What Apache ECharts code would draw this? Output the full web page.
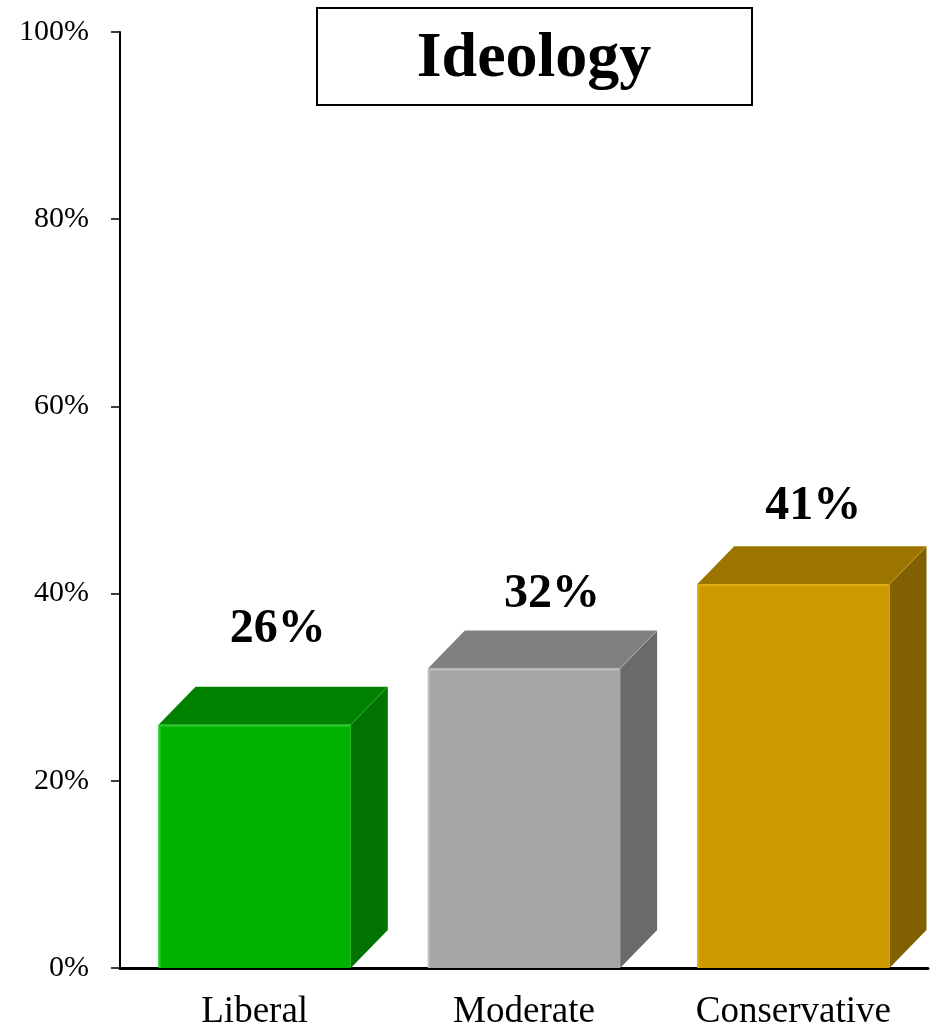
<!DOCTYPE html>
<html>
<head>
<meta charset="utf-8">
<script src="https://cdn.jsdelivr.net/npm/echarts@6/dist/echarts.min.js"></script>
<style>html,body{margin:0;padding:0;background:#fff}#c{width:930px;height:1031px}</style>
</head>
<body>
<div id="c"></div>
<script>
const categories = ['Liberal', 'Moderate', 'Conservative'];
const values = [26, 32, 41];
const yTicks = [0, 20, 40, 60, 80, 100];
const titleText = 'Ideology';

const frontColors = ['#00B300', '#A6A6A6', '#CC9900'];
const topColors = ['#008200', '#808080', '#9C7500'];
const sideColors = ['#007300', '#6A6A6A', '#806000'];
const edgeColors = ['#22CC22', '#BBBBBB', '#E0AC10'];
// label placement offsets (px) relative to bar top
const labelShiftX = [23, 28, 20];
const labelGap = [33, 12, 16];

const DX = 37, DY = 38;
const chart = echarts.init(document.getElementById('c'));

function renderItem(params, api) {
  const i = api.value(0);
  const v = api.value(1);
  const top = api.coord([i, v]);
  const base = api.coord([i, 0]);
  const band = api.size([1, 0])[0];
  const w = band * 0.714;
  const x0 = top[0] - w / 2, x1 = top[0] + w / 2;
  const yt = top[1], yb = base[1];
  return {
    type: 'group',
    children: [
      { type: 'polygon', shape: { points: [[x1, yt], [x1 + DX, yt - DY], [x1 + DX, yb - DY], [x1, yb]] },
        style: { fill: sideColors[i] } },
      { type: 'polygon', shape: { points: [[x0, yt], [x0 + DX, yt - DY], [x1 + DX, yt - DY], [x1, yt]] },
        style: { fill: topColors[i] } },
      { type: 'rect', shape: { x: x0, y: yt, width: w, height: yb - yt },
        style: { fill: frontColors[i] } },
      { type: 'polyline', shape: { points: [[x0 + 1, yb], [x0 + 1, yt + 1], [x1 - 1, yt + 1]] },
        style: { stroke: edgeColors[i], lineWidth: 2, fill: null } },
      { type: 'line', shape: { x1: x1, y1: yt, x2: x1 + DX, y2: yt - DY },
        style: { stroke: edgeColors[i], lineWidth: 1, opacity: 0.6 } },
      { type: 'text', x: top[0] + labelShiftX[i], y: yt - DY - labelGap[i],
        style: { text: v + '%', fill: '#000', font: 'bold 48px "Liberation Serif", serif',
          align: 'center', verticalAlign: 'bottom' } }
    ]
  };
}

chart.setOption({
  animation: false,
  grid: { left: 120, right: 2, top: 32, bottom: 62 },
  xAxis: {
    type: 'category',
    data: categories,
    axisLine: { show: true, lineStyle: { color: '#000', width: 3 } },
    axisTick: { show: false },
    axisLabel: { color: '#000', fontFamily: '"Liberation Serif", serif', fontSize: 37, margin: 26 },
    splitLine: { show: false }
  },
  yAxis: {
    type: 'value',
    min: 0, max: 100, interval: 20,
    axisLine: { show: true, lineStyle: { color: '#000', width: 2 } },
    axisTick: { show: true, length: 9, lineStyle: { color: '#000', width: 1.5 } },
    axisLabel: { color: '#000', fontFamily: '"Liberation Serif", serif', fontSize: 30, margin: 31,
      formatter: function (v) { return yTicks.indexOf(v) >= 0 ? v + '%' : ''; } },
    splitLine: { show: false }
  },
  series: [{
    type: 'custom',
    renderItem: renderItem,
    data: values.map((v, i) => [i, v]),
    encode: { x: 0, y: 1 },
    clip: false
  }],
  graphic: [
    { type: 'rect', shape: { x: 317, y: 8, width: 435, height: 97 },
      style: { fill: '#fff', stroke: '#000', lineWidth: 2 }, z: 10 },
    { type: 'text', x: 534, y: 59, z: 11,
      style: { text: titleText, fill: '#000', font: 'bold 64px "Liberation Serif", serif',
        align: 'center', verticalAlign: 'middle' } }
  ]
});
</script>
</body>
</html>
